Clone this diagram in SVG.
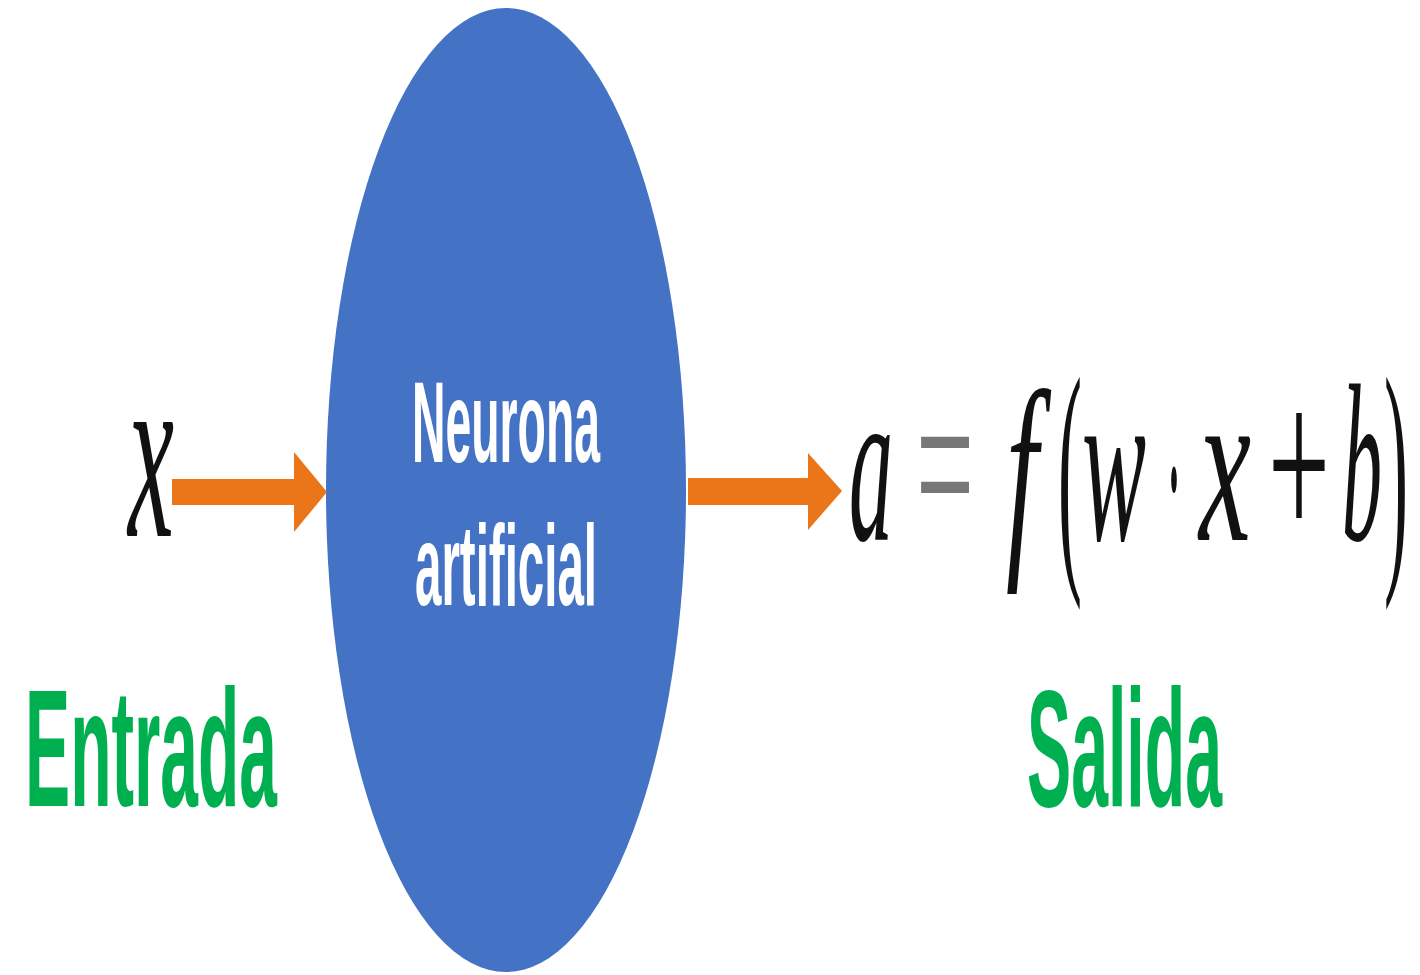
<svg xmlns="http://www.w3.org/2000/svg" width="1420" height="975" viewBox="0 0 1420 975">
  <style>
    .math { font-family: "Liberation Serif", "DejaVu Serif", serif; font-style: italic; font-size: 80px; fill: #111; }
    .up { font-family: "Liberation Serif", "DejaVu Serif", serif; font-size: 80px; fill: #111; }
    .lbl { font-family: "Liberation Sans", Arial, sans-serif; font-weight: bold; fill: #00B050; font-size: 68px; }
    .neu { font-family: "Liberation Sans", Arial, sans-serif; font-weight: bold; fill: #ffffff; font-size: 47px; }
    .arrow { fill: #EB7519; }
  </style>
  <rect width="1420" height="975" fill="#ffffff"/>

  <g id="neuron">
    <ellipse cx="506" cy="490" rx="180" ry="482" fill="#4472C4"/>
    <text class="neu" transform="translate(412,462) scale(1,2.45)" x="0" y="0" textLength="188" lengthAdjust="spacingAndGlyphs">Neurona</text>
    <text class="neu" transform="translate(415,605) scale(1,2.45)" x="0" y="0" textLength="182" lengthAdjust="spacingAndGlyphs">artificial</text>
  </g>

  <g id="connectors">
    <polygon class="arrow" points="172,479 294,479 294,452 327,492 294,532 294,505 172,505"/>
    <polygon class="arrow" points="688,478 808,478 808,453 842,491 808,530 808,505 688,505"/>
  </g>

  <g id="input">
    <text class="math" transform="translate(0,536) scale(1,3.1)" x="128" y="0" textLength="46" lengthAdjust="spacingAndGlyphs">x</text>
    <text class="lbl" transform="translate(25,806) scale(1,2.47)" x="0" y="0" textLength="252" lengthAdjust="spacingAndGlyphs">Entrada</text>
  </g>

  <g id="output">
    <g transform="translate(0,540) scale(1,2.8)">
      <text class="math" x="849" y="0" textLength="44" lengthAdjust="spacingAndGlyphs">a</text>
      <text class="up" x="916" y="0" textLength="58" lengthAdjust="spacingAndGlyphs" style="fill:#777777">=</text>
      <text class="math" x="1006" y="2" textLength="32" lengthAdjust="spacingAndGlyphs">f</text>
      <text class="math" x="1082" y="0" textLength="64" lengthAdjust="spacingAndGlyphs">w</text>
      <text class="up" x="1166" y="5" textLength="16" lengthAdjust="spacingAndGlyphs">·</text>
      <text class="math" x="1199" y="0" textLength="52" lengthAdjust="spacingAndGlyphs">x</text>
      <text class="up" x="1268" y="0" textLength="62" lengthAdjust="spacingAndGlyphs">+</text>
      <text class="math" x="1342" y="0" textLength="40" lengthAdjust="spacingAndGlyphs">b</text>
    </g>
    <g transform="translate(0,555) scale(1,3.2)">
      <text class="up" x="1058" y="0" textLength="24" lengthAdjust="spacingAndGlyphs">(</text>
      <text class="up" x="1384" y="0" textLength="24" lengthAdjust="spacingAndGlyphs">)</text>
    </g>
    <text class="lbl" transform="translate(1027,806) scale(1,2.47)" x="0" y="0" textLength="195" lengthAdjust="spacingAndGlyphs">Salida</text>
  </g>
</svg>
